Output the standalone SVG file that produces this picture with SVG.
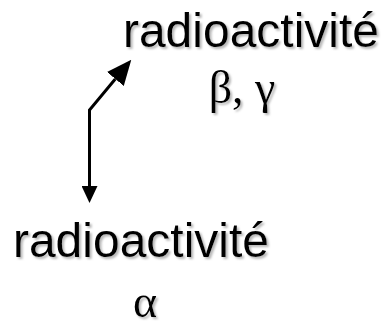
<svg xmlns="http://www.w3.org/2000/svg" width="385" height="333" viewBox="0 0 385 333">
  <defs>
    <filter id="shadow" x="-10%" y="-20%" width="130%" height="150%">
      <feDropShadow dx="2" dy="2" stdDeviation="1" flood-color="#999999" flood-opacity="0.7"/>
    </filter>
    <marker id="headBig" markerUnits="userSpaceOnUse" viewBox="0 -11 25 22" refX="0" refY="0" markerWidth="25" markerHeight="22" orient="auto">
      <path d="M0,-11 L25,0 L0,11 Z" fill="#000"/>
    </marker>
    <marker id="headSmall" markerUnits="userSpaceOnUse" viewBox="0 -8 17 16" refX="0" refY="0" markerWidth="17" markerHeight="16" orient="auto-start-reverse">
      <path d="M0,-8 L17,0 L0,8 Z" fill="#000"/>
    </marker>
    <style>
      .sans { font-family: "Liberation Sans", Arial, sans-serif; font-size: 48px; fill: #000; text-anchor: middle; }
      .greek { font-family: "Liberation Serif", "Times New Roman", serif; font-size: 46px; fill: #000; text-anchor: middle; }
      .conn { fill: none; stroke: #000; stroke-width: 3; }
    </style>
  </defs>
  <rect width="385" height="333" fill="#fff"/>
  <g id="node-beta-gamma" filter="url(#shadow)">
    <text class="sans" x="251" y="47">radioactivité</text>
    <text class="greek" x="242" y="103">β, γ</text>
  </g>
  <g id="node-alpha" filter="url(#shadow)">
    <text class="sans" x="141" y="257">radioactivité</text>
    <text class="greek" x="145" y="317">α</text>
  </g>
  <g id="connectors">
    <path class="conn" d="M89.5,186 L89.5,110 L115.3,79" marker-start="url(#headSmall)" marker-end="url(#headBig)"/>
  </g>
</svg>
